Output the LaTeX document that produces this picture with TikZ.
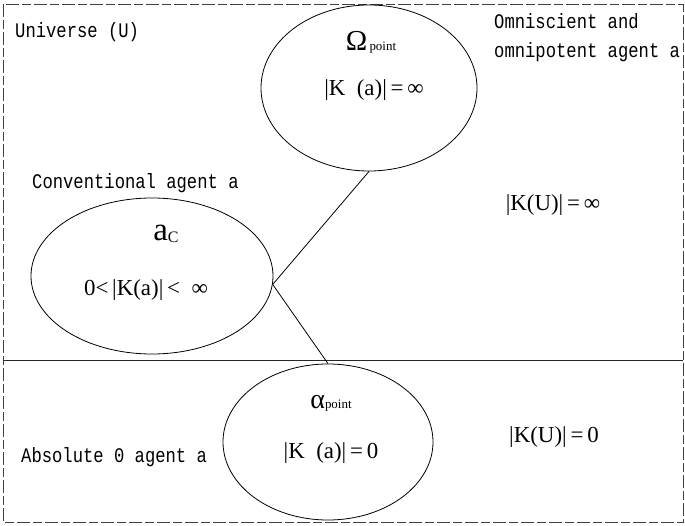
\documentclass[tikz,border=0pt]{standalone}
\usepackage{fontspec}
\setmainfont{Liberation Serif}
\newfontfamily\monof[FakeStretch=0.83]{Liberation Mono}
\usetikzlibrary{shapes.geometric}
\tikzset{
  blob/.style={draw=black, line width=0.8bp, ellipse, inner sep=0pt},
  monotext/.style={anchor=west, inner sep=0pt, font=\monof\fontsize{20.8}{22}\selectfont},
  sertext/.style={inner sep=0pt, font=\fontsize{23}{26}\selectfont},
  link/.style={draw=black, line width=0.8bp},
}
\begin{document}
\begin{tikzpicture}[x=1bp, y=-1bp]
\useasboundingbox (0,0) rectangle (685,526);
% frame and divider
\draw[black!75, line width=0.8bp, dash pattern=on 13bp off 3bp on 9bp off 3bp] (3,4) rectangle (683,522);
\coordinate (dl) at (3,360);
\coordinate (dr) at (683,360);
\draw[black!85, line width=0.9bp] (dl) -- (dr);
% ellipses
\node[blob, minimum width=216bp, minimum height=166bp] (O) at (369,88) {};
\node[blob, minimum width=242bp, minimum height=156bp] (C) at (152,276) {};
\node[blob, minimum width=210bp, minimum height=156bp] (A) at (328,442) {};
% connectors
\path[link] (C.-4) -- (O.south);
\path[link] (C.-4) -- (A.north);
% ellipse labels
\node[inner sep=0pt] (ol) at (371,42) {{\fontsize{29}{30}\selectfont Ω}{\fontsize{13}{14}\selectfont\,point}};
\node[sertext] (ok) at (374,90) {|K\,\,\,(a)|\,=\,∞};
\node[inner sep=0pt] (cl) at (166,234) {{\fontsize{33}{34}\selectfont a}{\fontsize{16}{17}\selectfont\raisebox{-2bp}{C}}};
\node[sertext] (ck) at (146,290) {0<\,|K(a)|\,<\,\,\,∞};
\node[inner sep=0pt] (al) at (331,403) {{\fontsize{28}{30}\selectfont α}{\fontsize{13}{14}\selectfont point}};
\node[sertext] (ak) at (331,453) {|K\,\,\,(a)|\,=\,0};
% side texts
\node[monotext] (u) at (15,32) {Universe (U)};
\node[monotext] (om1) at (494,21) {Omniscient and};
\node[monotext] (om2) at (494,52) {omnipotent agent a};
\node[monotext] (ca) at (32,183) {Conventional agent a};
\node[monotext] (za) at (21,457) {Absolute 0 agent a};
\node[sertext] (ku1) at (553,205) {|K(U)|\,=\,∞};
\node[sertext] (ku0) at (554,437) {|K(U)|\,=\,0};
\end{tikzpicture}
\end{document}
